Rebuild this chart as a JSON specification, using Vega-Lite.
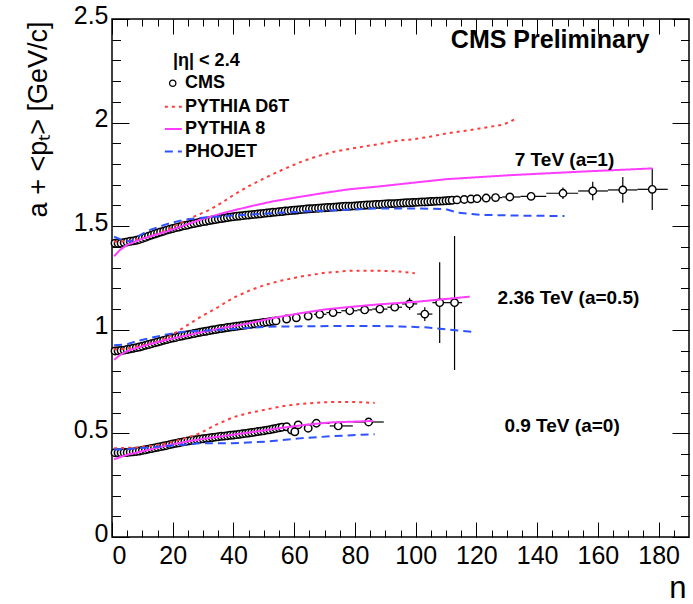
{
"$schema":"https://vega.github.io/schema/vega-lite/v6.json",
"width":577,"height":518,"autosize":"none",
"padding":{"left":112,"top":19,"right":4,"bottom":67},
"background":"white",
"config":{"view":{"stroke":"black","strokeWidth":1.5},
 "axis":{"grid":false,"domain":false,"tickColor":"black","tickWidth":1,"labelColor":"black","titleColor":"black","labelFont":"Liberation Sans","titleFont":"Liberation Sans","titleFontWeight":"normal","labelFontSize":25}},
"datasets":{
"cms":[
{"n":1,"y":1.418},{"n":2,"y":1.418},{"n":3,"y":1.418},{"n":4,"y":1.421},{"n":5,"y":1.424},{"n":6,"y":1.427},{"n":7,"y":1.429},{"n":8,"y":1.432},{"n":9,"y":1.436},{"n":10,"y":1.441},
{"n":11,"y":1.446},{"n":12,"y":1.452},{"n":13,"y":1.457},{"n":14,"y":1.462},{"n":15,"y":1.467},{"n":16,"y":1.472},{"n":17,"y":1.476},{"n":18,"y":1.481},{"n":19,"y":1.485},{"n":20,"y":1.489},
{"n":21,"y":1.493},{"n":22,"y":1.496},{"n":23,"y":1.5},{"n":24,"y":1.503},{"n":25,"y":1.506},{"n":26,"y":1.51},{"n":27,"y":1.513},{"n":28,"y":1.516},{"n":29,"y":1.519},{"n":30,"y":1.522},
{"n":31,"y":1.524},{"n":32,"y":1.527},{"n":33,"y":1.53},{"n":34,"y":1.532},{"n":35,"y":1.535},{"n":36,"y":1.537},{"n":37,"y":1.539},{"n":38,"y":1.542},{"n":39,"y":1.544},{"n":40,"y":1.546},
{"n":41,"y":1.548},{"n":42,"y":1.549},{"n":43,"y":1.551},{"n":44,"y":1.553},{"n":45,"y":1.554},{"n":46,"y":1.556},{"n":47,"y":1.557},{"n":48,"y":1.559},{"n":49,"y":1.56},{"n":50,"y":1.562},
{"n":51,"y":1.564},{"n":52,"y":1.565},{"n":53,"y":1.567},{"n":54,"y":1.568},{"n":55,"y":1.57},{"n":56,"y":1.571},{"n":57,"y":1.573},{"n":58,"y":1.574},{"n":59,"y":1.576},{"n":60,"y":1.577},
{"n":61,"y":1.578},{"n":62,"y":1.58},{"n":63,"y":1.581},{"n":64,"y":1.583},{"n":65,"y":1.584},{"n":66,"y":1.585},{"n":67,"y":1.586},{"n":68,"y":1.587},{"n":69,"y":1.588},{"n":70,"y":1.589},
{"n":71,"y":1.59},{"n":72,"y":1.591},{"n":73,"y":1.592},{"n":74,"y":1.593},{"n":75,"y":1.594},{"n":76,"y":1.595},{"n":77,"y":1.596},{"n":78,"y":1.596},{"n":79,"y":1.597},{"n":80,"y":1.598},
{"n":81,"y":1.599},{"n":82,"y":1.6},{"n":83,"y":1.601},{"n":84,"y":1.602},{"n":85,"y":1.603},{"n":86,"y":1.604},{"n":87,"y":1.605},{"n":88,"y":1.605},{"n":89,"y":1.606},{"n":90,"y":1.607},
{"n":91,"y":1.608},{"n":92,"y":1.609},{"n":93,"y":1.609},{"n":94,"y":1.61},{"n":95,"y":1.611},{"n":96,"y":1.612},{"n":97,"y":1.613},{"n":98,"y":1.613},{"n":99,"y":1.614},{"n":100,"y":1.615},
{"n":101,"y":1.616},{"n":102,"y":1.617},{"n":103,"y":1.617},{"n":104,"y":1.618},{"n":105,"y":1.619},{"n":106,"y":1.62},{"n":107,"y":1.621},{"n":108,"y":1.621},{"n":109,"y":1.622},{"n":110,"y":1.623},
{"n":111,"y":1.624},{"n":112,"y":1.625},{"n":113.6,"y":1.627},{"n":116,"y":1.629},{"n":118.2,"y":1.631},
{"n":1,"y":0.898},{"n":2,"y":0.899},{"n":3,"y":0.9},{"n":4,"y":0.902},{"n":5,"y":0.905},{"n":6,"y":0.908},{"n":7,"y":0.911},{"n":8,"y":0.914},{"n":9,"y":0.917},{"n":10,"y":0.921},
{"n":11,"y":0.925},{"n":12,"y":0.929},{"n":13,"y":0.933},{"n":14,"y":0.937},{"n":15,"y":0.941},{"n":16,"y":0.945},{"n":17,"y":0.949},{"n":18,"y":0.953},{"n":19,"y":0.957},{"n":20,"y":0.96},
{"n":21,"y":0.963},{"n":22,"y":0.967},{"n":23,"y":0.97},{"n":24,"y":0.973},{"n":25,"y":0.976},{"n":26,"y":0.979},{"n":27,"y":0.982},{"n":28,"y":0.985},{"n":29,"y":0.988},{"n":30,"y":0.991},
{"n":31,"y":0.993},{"n":32,"y":0.996},{"n":33,"y":0.999},{"n":34,"y":1.001},{"n":35,"y":1.004},{"n":36,"y":1.006},{"n":37,"y":1.008},{"n":38,"y":1.011},{"n":39,"y":1.013},{"n":40,"y":1.015},
{"n":41,"y":1.017},{"n":42,"y":1.019},{"n":43,"y":1.021},{"n":44,"y":1.023},{"n":45,"y":1.025},{"n":46,"y":1.027},{"n":47,"y":1.029},{"n":48,"y":1.031},{"n":49,"y":1.033},{"n":50,"y":1.035},
{"n":51,"y":1.037},{"n":52,"y":1.039},{"n":53,"y":1.041},{"n":54,"y":1.043},{"n":57.5,"y":1.052},{"n":60.7,"y":1.058},{"n":64.6,"y":1.066},
{"n":1,"y":0.407},{"n":2,"y":0.407},{"n":3,"y":0.407},{"n":4,"y":0.408},{"n":5,"y":0.408},{"n":6,"y":0.41},{"n":7,"y":0.411},{"n":8,"y":0.413},{"n":9,"y":0.415},{"n":10,"y":0.418},
{"n":11,"y":0.421},{"n":12,"y":0.424},{"n":13,"y":0.427},{"n":14,"y":0.43},{"n":15,"y":0.433},{"n":16,"y":0.436},{"n":17,"y":0.439},{"n":18,"y":0.442},{"n":19,"y":0.446},{"n":20,"y":0.449},
{"n":21,"y":0.452},{"n":22,"y":0.455},{"n":23,"y":0.458},{"n":24,"y":0.461},{"n":25,"y":0.463},{"n":26,"y":0.466},{"n":27,"y":0.468},{"n":28,"y":0.47},{"n":29,"y":0.472},{"n":30,"y":0.474},
{"n":31,"y":0.476},{"n":32,"y":0.478},{"n":33,"y":0.48},{"n":34,"y":0.482},{"n":35,"y":0.484},{"n":36,"y":0.486},{"n":37,"y":0.487},{"n":38,"y":0.489},{"n":39,"y":0.491},{"n":40,"y":0.492},
{"n":41,"y":0.494},{"n":42,"y":0.496},{"n":43,"y":0.498},{"n":44,"y":0.5},{"n":45,"y":0.502},{"n":46,"y":0.504},{"n":47,"y":0.506},{"n":48,"y":0.509},{"n":49,"y":0.511},{"n":50,"y":0.513},
{"n":51,"y":0.516},{"n":52,"y":0.518},{"n":53,"y":0.521},{"n":54,"y":0.524},{"n":55,"y":0.527},{"n":56,"y":0.53},{"n":57.5,"y":0.532},{"n":59.1,"y":0.516},{"n":60.2,"y":0.508},{"n":61.3,"y":0.541},{"n":64.6,"y":0.525}
],
"err":[
{"n":120.2,"y":1.633,"ylo":1.629,"yhi":1.637,"xlo":118.8,"xhi":121.7},
{"n":123.2,"y":1.636,"ylo":1.632,"yhi":1.64,"xlo":121.7,"xhi":124.7},
{"n":126.3,"y":1.638,"ylo":1.633,"yhi":1.643,"xlo":124.7,"xhi":128.5},
{"n":131,"y":1.641,"ylo":1.633,"yhi":1.649,"xlo":128.5,"xhi":134.5},
{"n":138,"y":1.644,"ylo":1.632,"yhi":1.656,"xlo":134.5,"xhi":143},
{"n":148.5,"y":1.659,"ylo":1.631,"yhi":1.687,"xlo":143,"xhi":153.5},
{"n":158.3,"y":1.67,"ylo":1.625,"yhi":1.715,"xlo":153.5,"xhi":163.3},
{"n":168.2,"y":1.675,"ylo":1.613,"yhi":1.737,"xlo":163.3,"xhi":173},
{"n":177.9,"y":1.678,"ylo":1.578,"yhi":1.778,"xlo":173,"xhi":183},
{"n":68.4,"y":1.075,"ylo":1.07,"yhi":1.08,"xlo":66.5,"xhi":70.6},
{"n":72.8,"y":1.083,"ylo":1.077,"yhi":1.089,"xlo":70.6,"xhi":75.5},
{"n":78.3,"y":1.092,"ylo":1.084,"yhi":1.1,"xlo":75.5,"xhi":80.8},
{"n":83.2,"y":1.096,"ylo":1.086,"yhi":1.106,"xlo":80.8,"xhi":85.7},
{"n":88.2,"y":1.1,"ylo":1.088,"yhi":1.112,"xlo":85.7,"xhi":90.7},
{"n":93.1,"y":1.109,"ylo":1.093,"yhi":1.125,"xlo":90.7,"xhi":95.5},
{"n":98,"y":1.125,"ylo":1.095,"yhi":1.155,"xlo":95.5,"xhi":100.5},
{"n":103,"y":1.076,"ylo":1.043,"yhi":1.109,"xlo":100.5,"xhi":105.5},
{"n":107.9,"y":1.131,"ylo":0.936,"yhi":1.326,"xlo":105.5,"xhi":110.3},
{"n":112.8,"y":1.131,"ylo":0.806,"yhi":1.453,"xlo":110.3,"xhi":115.3},
{"n":67.3,"y":0.549,"ylo":0.542,"yhi":0.556,"xlo":65.5,"xhi":71.7},
{"n":74.5,"y":0.536,"ylo":0.526,"yhi":0.546,"xlo":71.7,"xhi":79.3},
{"n":84.5,"y":0.555,"ylo":0.543,"yhi":0.567,"xlo":79.3,"xhi":89.5}
],
"models":[
{"m":"PYTHIA D6T","e":"7","n":0.7,"y":1.425},{"m":"PYTHIA D6T","e":"7","n":5,"y":1.428},{"m":"PYTHIA D6T","e":"7","n":10,"y":1.44},{"m":"PYTHIA D6T","e":"7","n":14,"y":1.458},{"m":"PYTHIA D6T","e":"7","n":18,"y":1.482},{"m":"PYTHIA D6T","e":"7","n":23.5,"y":1.522},{"m":"PYTHIA D6T","e":"7","n":28,"y":1.553},{"m":"PYTHIA D6T","e":"7","n":32,"y":1.578},{"m":"PYTHIA D6T","e":"7","n":36,"y":1.612},{"m":"PYTHIA D6T","e":"7","n":40,"y":1.65},{"m":"PYTHIA D6T","e":"7","n":45,"y":1.693},{"m":"PYTHIA D6T","e":"7","n":50,"y":1.73},{"m":"PYTHIA D6T","e":"7","n":55,"y":1.765},{"m":"PYTHIA D6T","e":"7","n":61.8,"y":1.808},{"m":"PYTHIA D6T","e":"7","n":67,"y":1.835},{"m":"PYTHIA D6T","e":"7","n":72.7,"y":1.858},{"m":"PYTHIA D6T","e":"7","n":78.3,"y":1.873},{"m":"PYTHIA D6T","e":"7","n":83,"y":1.885},{"m":"PYTHIA D6T","e":"7","n":88.2,"y":1.897},{"m":"PYTHIA D6T","e":"7","n":94.7,"y":1.914},{"m":"PYTHIA D6T","e":"7","n":99,"y":1.919},{"m":"PYTHIA D6T","e":"7","n":105,"y":1.933},{"m":"PYTHIA D6T","e":"7","n":110.2,"y":1.948},{"m":"PYTHIA D6T","e":"7","n":116,"y":1.96},{"m":"PYTHIA D6T","e":"7","n":121.2,"y":1.972},{"m":"PYTHIA D6T","e":"7","n":128,"y":1.988},{"m":"PYTHIA D6T","e":"7","n":130.5,"y":2.0},{"m":"PYTHIA D6T","e":"7","n":132.6,"y":2.016},
{"m":"PYTHIA 8","e":"7","n":0.7,"y":1.355},{"m":"PYTHIA 8","e":"7","n":2.6,"y":1.385},{"m":"PYTHIA 8","e":"7","n":5,"y":1.41},{"m":"PYTHIA 8","e":"7","n":10,"y":1.44},{"m":"PYTHIA 8","e":"7","n":18,"y":1.474},{"m":"PYTHIA 8","e":"7","n":29,"y":1.531},{"m":"PYTHIA 8","e":"7","n":37,"y":1.565},{"m":"PYTHIA 8","e":"7","n":45,"y":1.594},{"m":"PYTHIA 8","e":"7","n":53,"y":1.62},{"m":"PYTHIA 8","e":"7","n":62,"y":1.642},{"m":"PYTHIA 8","e":"7","n":70,"y":1.661},{"m":"PYTHIA 8","e":"7","n":78,"y":1.678},{"m":"PYTHIA 8","e":"7","n":88,"y":1.692},{"m":"PYTHIA 8","e":"7","n":98,"y":1.708},{"m":"PYTHIA 8","e":"7","n":110,"y":1.727},{"m":"PYTHIA 8","e":"7","n":121,"y":1.737},{"m":"PYTHIA 8","e":"7","n":132,"y":1.747},{"m":"PYTHIA 8","e":"7","n":143,"y":1.755},{"m":"PYTHIA 8","e":"7","n":154,"y":1.763},{"m":"PYTHIA 8","e":"7","n":166,"y":1.771},{"m":"PYTHIA 8","e":"7","n":178,"y":1.779},
{"m":"PHOJET","e":"7","n":0.7,"y":1.449},{"m":"PHOJET","e":"7","n":3,"y":1.435},{"m":"PHOJET","e":"7","n":6,"y":1.425},{"m":"PHOJET","e":"7","n":9,"y":1.455},{"m":"PHOJET","e":"7","n":12.5,"y":1.482},{"m":"PHOJET","e":"7","n":18,"y":1.51},{"m":"PHOJET","e":"7","n":23.4,"y":1.53},{"m":"PHOJET","e":"7","n":29,"y":1.54},{"m":"PHOJET","e":"7","n":34.4,"y":1.546},{"m":"PHOJET","e":"7","n":45,"y":1.556},{"m":"PHOJET","e":"7","n":55,"y":1.565},{"m":"PHOJET","e":"7","n":65,"y":1.572},{"m":"PHOJET","e":"7","n":75,"y":1.578},{"m":"PHOJET","e":"7","n":88,"y":1.586},{"m":"PHOJET","e":"7","n":100,"y":1.586},{"m":"PHOJET","e":"7","n":110,"y":1.582},{"m":"PHOJET","e":"7","n":114,"y":1.565},{"m":"PHOJET","e":"7","n":121,"y":1.555},{"m":"PHOJET","e":"7","n":135,"y":1.551},{"m":"PHOJET","e":"7","n":149,"y":1.549},
{"m":"PYTHIA D6T","e":"2","n":0.7,"y":0.905},{"m":"PYTHIA D6T","e":"2","n":5,"y":0.91},{"m":"PYTHIA D6T","e":"2","n":10,"y":0.925},{"m":"PYTHIA D6T","e":"2","n":14,"y":0.94},{"m":"PYTHIA D6T","e":"2","n":18,"y":0.96},{"m":"PYTHIA D6T","e":"2","n":23.5,"y":1.01},{"m":"PYTHIA D6T","e":"2","n":28.9,"y":1.06},{"m":"PYTHIA D6T","e":"2","n":35,"y":1.11},{"m":"PYTHIA D6T","e":"2","n":40,"y":1.155},{"m":"PYTHIA D6T","e":"2","n":45.4,"y":1.19},{"m":"PYTHIA D6T","e":"2","n":50,"y":1.215},{"m":"PYTHIA D6T","e":"2","n":55,"y":1.235},{"m":"PYTHIA D6T","e":"2","n":61.8,"y":1.256},{"m":"PYTHIA D6T","e":"2","n":70,"y":1.275},{"m":"PYTHIA D6T","e":"2","n":78.3,"y":1.285},{"m":"PYTHIA D6T","e":"2","n":88.2,"y":1.285},{"m":"PYTHIA D6T","e":"2","n":94,"y":1.282},{"m":"PYTHIA D6T","e":"2","n":99.7,"y":1.273},
{"m":"PYTHIA 8","e":"2","n":0.7,"y":0.855},{"m":"PYTHIA 8","e":"2","n":2.6,"y":0.878},{"m":"PYTHIA 8","e":"2","n":5,"y":0.898},{"m":"PYTHIA 8","e":"2","n":10,"y":0.921},{"m":"PYTHIA 8","e":"2","n":18,"y":0.952},{"m":"PYTHIA 8","e":"2","n":29,"y":0.987},{"m":"PYTHIA 8","e":"2","n":37,"y":1.01},{"m":"PYTHIA 8","e":"2","n":45,"y":1.031},{"m":"PYTHIA 8","e":"2","n":53,"y":1.057},{"m":"PYTHIA 8","e":"2","n":62,"y":1.08},{"m":"PYTHIA 8","e":"2","n":70,"y":1.098},{"m":"PYTHIA 8","e":"2","n":78,"y":1.11},{"m":"PYTHIA 8","e":"2","n":88,"y":1.123},{"m":"PYTHIA 8","e":"2","n":93,"y":1.128},{"m":"PYTHIA 8","e":"2","n":100,"y":1.135},{"m":"PYTHIA 8","e":"2","n":108,"y":1.146},{"m":"PYTHIA 8","e":"2","n":117.8,"y":1.16},
{"m":"PHOJET","e":"2","n":0.7,"y":0.925},{"m":"PHOJET","e":"2","n":5,"y":0.93},{"m":"PHOJET","e":"2","n":8,"y":0.945},{"m":"PHOJET","e":"2","n":12.5,"y":0.96},{"m":"PHOJET","e":"2","n":18,"y":0.978},{"m":"PHOJET","e":"2","n":23.4,"y":0.991},{"m":"PHOJET","e":"2","n":34.4,"y":0.999},{"m":"PHOJET","e":"2","n":51,"y":1.015},{"m":"PHOJET","e":"2","n":72.8,"y":1.018},{"m":"PHOJET","e":"2","n":88.2,"y":1.018},{"m":"PHOJET","e":"2","n":95,"y":1.016},{"m":"PHOJET","e":"2","n":103,"y":1.012},{"m":"PHOJET","e":"2","n":110,"y":1.002},{"m":"PHOJET","e":"2","n":118.3,"y":0.991},
{"m":"PYTHIA D6T","e":"0","n":0.7,"y":0.428},{"m":"PYTHIA D6T","e":"0","n":8,"y":0.432},{"m":"PYTHIA D6T","e":"0","n":13,"y":0.44},{"m":"PYTHIA D6T","e":"0","n":18,"y":0.452},{"m":"PYTHIA D6T","e":"0","n":23,"y":0.472},{"m":"PYTHIA D6T","e":"0","n":28.9,"y":0.5},{"m":"PYTHIA D6T","e":"0","n":34,"y":0.54},{"m":"PYTHIA D6T","e":"0","n":39.9,"y":0.578},{"m":"PYTHIA D6T","e":"0","n":45,"y":0.598},{"m":"PYTHIA D6T","e":"0","n":50.9,"y":0.616},{"m":"PYTHIA D6T","e":"0","n":56,"y":0.631},{"m":"PYTHIA D6T","e":"0","n":61.8,"y":0.642},{"m":"PYTHIA D6T","e":"0","n":67,"y":0.648},{"m":"PYTHIA D6T","e":"0","n":72.8,"y":0.652},{"m":"PYTHIA D6T","e":"0","n":80,"y":0.652},{"m":"PYTHIA D6T","e":"0","n":86.5,"y":0.647},
{"m":"PYTHIA 8","e":"0","n":0.7,"y":0.375},{"m":"PYTHIA 8","e":"0","n":2.6,"y":0.385},{"m":"PYTHIA 8","e":"0","n":5,"y":0.397},{"m":"PYTHIA 8","e":"0","n":8,"y":0.407},{"m":"PYTHIA 8","e":"0","n":12,"y":0.421},{"m":"PYTHIA 8","e":"0","n":18,"y":0.441},{"m":"PYTHIA 8","e":"0","n":25,"y":0.462},{"m":"PYTHIA 8","e":"0","n":32,"y":0.478},{"m":"PYTHIA 8","e":"0","n":40,"y":0.494},{"m":"PYTHIA 8","e":"0","n":48,"y":0.51},{"m":"PYTHIA 8","e":"0","n":56,"y":0.527},{"m":"PYTHIA 8","e":"0","n":64,"y":0.542},{"m":"PYTHIA 8","e":"0","n":72,"y":0.553},{"m":"PYTHIA 8","e":"0","n":80,"y":0.557},{"m":"PYTHIA 8","e":"0","n":86,"y":0.56},
{"m":"PHOJET","e":"0","n":0.7,"y":0.422},{"m":"PHOJET","e":"0","n":5,"y":0.424},{"m":"PHOJET","e":"0","n":10,"y":0.43},{"m":"PHOJET","e":"0","n":18,"y":0.439},{"m":"PHOJET","e":"0","n":28.9,"y":0.452},{"m":"PHOJET","e":"0","n":39.9,"y":0.453},{"m":"PHOJET","e":"0","n":50.9,"y":0.46},{"m":"PHOJET","e":"0","n":61.8,"y":0.476},{"m":"PHOJET","e":"0","n":72.8,"y":0.487},{"m":"PHOJET","e":"0","n":86.5,"y":0.496},
{"m":"PYTHIA D6T","e":"L","n":17.4,"y":2.077},{"m":"PYTHIA D6T","e":"L","n":23,"y":2.077},
{"m":"PYTHIA 8","e":"L","n":17.4,"y":1.969},{"m":"PYTHIA 8","e":"L","n":23,"y":1.969},
{"m":"PHOJET","e":"L","n":17.4,"y":1.86},{"m":"PHOJET","e":"L","n":23,"y":1.86}
],
"legpt":[{"n":20,"y":2.19}],
"legtxt":[{"t":"|η| < 2.4","n":20.1,"y":2.297},{"t":"CMS","n":24,"y":2.19},{"t":"PYTHIA D6T","n":24,"y":2.077},{"t":"PYTHIA 8","n":24,"y":1.969},{"t":"PHOJET","n":24,"y":1.86}],
"elab":[{"t":"7 TeV (a=1)","n":149,"y":1.82},{"t":"2.36 TeV (a=0.5)","n":150.3,"y":1.153},{"t":"0.9 TeV (a=0)","n":148.2,"y":0.536}],
"head":[{"t":"CMS Preliminary","n":177,"y":2.397}]
},
"layer":[
{"data":{"name":"err"},"mark":{"type":"rule","color":"black","strokeWidth":1.2},
 "encoding":{
  "x":{"field":"n","type":"quantitative","scale":{"domain":[0,190],"nice":false,"zero":false},
   "axis":{"orient":"bottom","values":[0,20,40,60,80,100,120,140,160,180],"tickSize":-15,"labelPadding":21,"labelFontSize":25,
    "title":"n","titleFontSize":31,"titleX":574,"titleY":60,"titleAlign":"right","titleBaseline":"alphabetic","titleAnchor":"end"}},
  "y":{"field":"ylo","type":"quantitative","scale":{"domain":[0,2.5],"nice":false,"zero":false},
   "axis":{"orient":"left","values":[0,0.5,1,1.5,2,2.5],"format":"~g","tickSize":-17,"labelPadding":21,"labelOffset":-4,"labelFontSize":25,
    "title":"a + <pₜ> [GeV/c]","titleFontSize":27,"titleX":-74,"titleY":2,"titleAngle":270,"titleAlign":"right","titleBaseline":"middle"}},
  "y2":{"field":"yhi"}}},
{"data":{"name":"err"},"mark":{"type":"rule","color":"black","strokeWidth":1.2},
 "encoding":{
  "x":{"field":"xlo","type":"quantitative","scale":{"domain":[0,190],"nice":false,"zero":false},
   "axis":{"orient":"bottom","values":[5,10,15,25,30,35,45,50,55,65,70,75,85,90,95,105,110,115,125,130,135,145,150,155,165,170,175,185],"tickSize":-7,"labels":false,"title":null}},
  "x2":{"field":"xhi"},
  "y":{"field":"y","type":"quantitative","scale":{"domain":[0,2.5],"nice":false,"zero":false},
   "axis":{"orient":"left","values":[0.1,0.2,0.3,0.4,0.6,0.7,0.8,0.9,1.1,1.2,1.3,1.4,1.6,1.7,1.8,1.9,2.1,2.2,2.3,2.4],"tickSize":-8.5,"labels":false,"title":null}}}},
{"data":{"name":"cms"},"mark":{"type":"point","shape":"circle","size":55,"filled":true,"fill":"white","stroke":"black","strokeWidth":1.5,"opacity":1},
 "encoding":{
  "x":{"field":"n","type":"quantitative","scale":{"domain":[0,190],"nice":false,"zero":false},
   "axis":{"orient":"top","values":[0,20,40,60,80,100,120,140,160,180],"tickSize":-15,"labels":false,"title":null}},
  "y":{"field":"y","type":"quantitative","scale":{"domain":[0,2.5],"nice":false,"zero":false},
   "axis":{"orient":"right","values":[0,0.5,1,1.5,2,2.5],"tickSize":-17,"labels":false,"title":null}}}},
{"data":{"name":"err"},"mark":{"type":"point","shape":"circle","size":55,"filled":true,"fill":"white","stroke":"black","strokeWidth":1.4,"opacity":1},
 "encoding":{
  "x":{"field":"n","type":"quantitative","scale":{"domain":[0,190],"nice":false,"zero":false},
   "axis":{"orient":"top","values":[5,10,15,25,30,35,45,50,55,65,70,75,85,90,95,105,110,115,125,130,135,145,150,155,165,170,175,185],"tickSize":-7,"labels":false,"title":null}},
  "y":{"field":"y","type":"quantitative","scale":{"domain":[0,2.5],"nice":false,"zero":false},
   "axis":{"orient":"right","values":[0.1,0.2,0.3,0.4,0.6,0.7,0.8,0.9,1.1,1.2,1.3,1.4,1.6,1.7,1.8,1.9,2.1,2.2,2.3,2.4],"tickSize":-8.5,"labels":false,"title":null}}}},
{"data":{"name":"models"},"mark":{"type":"line","strokeWidth":2},
 "encoding":{
  "x":{"field":"n","type":"quantitative","axis":null},
  "y":{"field":"y","type":"quantitative","axis":null},
  "detail":{"field":"e"},
  "color":{"field":"m","type":"nominal","legend":null,"scale":{"domain":["PYTHIA D6T","PYTHIA 8","PHOJET"],"range":["#ff3b3b","#ff3cff","#2f52ff"]}},
  "strokeDash":{"field":"m","type":"nominal","legend":null,"scale":{"domain":["PYTHIA D6T","PYTHIA 8","PHOJET"],"range":[[3,4],[1,0],[8,5]]}}}},
{"data":{"name":"legpt"},"mark":{"type":"point","shape":"circle","size":40,"filled":true,"fill":"white","stroke":"black","strokeWidth":1.3,"opacity":1},
 "encoding":{"x":{"field":"n","type":"quantitative","axis":null},"y":{"field":"y","type":"quantitative","axis":null}}},
{"data":{"name":"legtxt"},"mark":{"type":"text","align":"left","baseline":"middle","font":"Liberation Sans","fontWeight":"bold","fontSize":18,"color":"black"},
 "encoding":{"x":{"field":"n","type":"quantitative","axis":null},"y":{"field":"y","type":"quantitative","axis":null},"text":{"field":"t"}}},
{"data":{"name":"elab"},"mark":{"type":"text","align":"center","baseline":"middle","font":"Liberation Sans","fontWeight":"bold","fontSize":19,"color":"black"},
 "encoding":{"x":{"field":"n","type":"quantitative","axis":null},"y":{"field":"y","type":"quantitative","axis":null},"text":{"field":"t"}}},
{"data":{"name":"head"},"mark":{"type":"text","align":"right","baseline":"middle","font":"Liberation Sans","fontWeight":"bold","fontSize":25,"color":"black"},
 "encoding":{"x":{"field":"n","type":"quantitative","axis":null},"y":{"field":"y","type":"quantitative","axis":null},"text":{"field":"t"}}}
],
"resolve":{"axis":{"x":"independent","y":"independent"}}
}
